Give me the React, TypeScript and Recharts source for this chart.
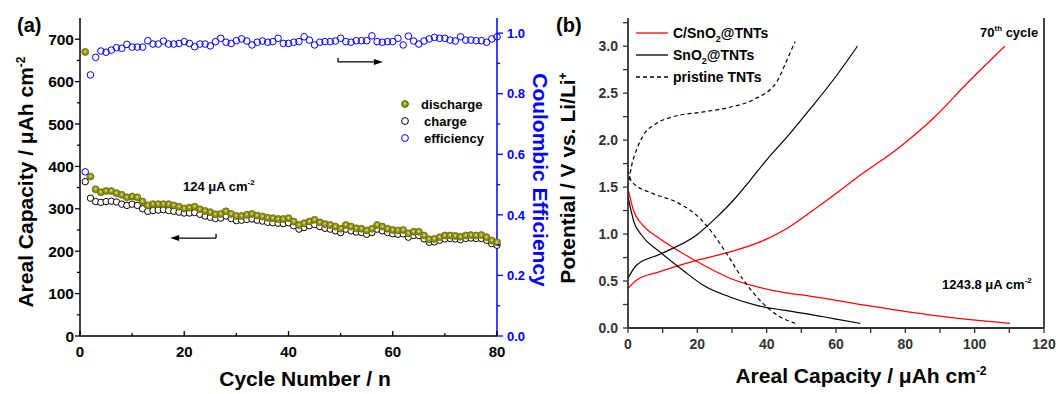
import React from 'react';
import { ComposedChart, LineChart, Line, XAxis, YAxis, ReferenceLine } from 'recharts';

const FONT = '"Liberation Sans", Arial, sans-serif';

// ---------- panel (a): cycling ----------
const cycles = [
  1, 2, 3, 4, 5, 6, 7, 8, 9, 10, 11, 12, 13, 14, 15, 16, 17, 18, 19, 20,
  21, 22, 23, 24, 25, 26, 27, 28, 29, 30, 31, 32, 33, 34, 35, 36, 37, 38, 39, 40,
  41, 42, 43, 44, 45, 46, 47, 48, 49, 50, 51, 52, 53, 54, 55, 56, 57, 58, 59, 60,
  61, 62, 63, 64, 65, 66, 67, 68, 69, 70, 71, 72, 73, 74, 75, 76, 77, 78, 79, 80,
];
const discharge = [
  670, 376, 346, 339, 342, 342, 337, 333, 327, 329, 327, 317, 308, 311, 311, 311, 311, 308, 305, 301,
  303, 305, 299, 295, 292, 287, 288, 294, 288, 283, 283, 286, 288, 284, 282, 279, 278, 276, 276, 278,
  270, 262, 266, 270, 274, 268, 264, 262, 258, 253, 262, 258, 254, 253, 249, 253, 262, 258, 253, 250,
  249, 250, 242, 246, 246, 237, 228, 229, 233, 237, 237, 236, 234, 237, 238, 237, 238, 233, 225, 221,
];
const charge = [
  364, 325, 317, 315, 317, 318, 316, 311, 308, 311, 308, 300, 294, 296, 297, 298, 296, 294, 292, 290,
  290, 291, 287, 283, 280, 277, 278, 283, 277, 272, 273, 275, 276, 273, 271, 268, 267, 266, 265, 267,
  260, 252, 256, 260, 263, 258, 254, 252, 248, 244, 252, 248, 245, 244, 240, 244, 252, 248, 244, 241,
  240, 241, 233, 237, 237, 229, 221, 222, 226, 229, 230, 229, 227, 230, 231, 230, 230, 226, 218, 214,
];
const efficiency = [
  0.542, 0.862, 0.92, 0.941, 0.937, 0.944, 0.952, 0.95, 0.963, 0.954, 0.954, 0.954, 0.975, 0.964, 0.964, 0.974, 0.964, 0.964, 0.966, 0.972,
  0.966, 0.955, 0.964, 0.964, 0.958, 0.972, 0.983, 0.97, 0.966, 0.975, 0.981, 0.974, 0.961, 0.97, 0.974, 0.97, 0.972, 0.983, 0.966, 0.966,
  0.97, 0.972, 0.988, 0.977, 0.961, 0.97, 0.972, 0.972, 0.974, 0.983, 0.972, 0.97, 0.975, 0.975, 0.975, 0.991, 0.972, 0.97, 0.972, 0.972,
  0.983, 0.961, 0.99, 0.974, 0.964, 0.974, 0.981, 0.986, 0.983, 0.983, 0.977, 0.974, 0.988, 0.977, 0.977, 0.975, 0.975, 0.97, 0.981, 0.988,
];

const cycleTicks = [0, 10, 20, 30, 40, 50, 60, 70, 80];
const capTicks = [0, 50, 100, 150, 200, 250, 300, 350, 400, 450, 500, 550, 600, 650, 700];
const effTicks = [0, 0.1, 0.2, 0.3, 0.4, 0.5, 0.6, 0.7, 0.8, 0.9, 1.0];

const cycleRows = cycles.map((cycle, i) => ({
  cycle,
  discharge: discharge[i],
  charge: charge[i],
  efficiency: efficiency[i],
}));

// ---------- panel (b): voltage profiles, 70th cycle ----------
const cSnO2Discharge = [[0, 1.48], [1.7, 1.24], [3.9, 1.11], [9.2, 0.95], [16, 0.79], [21.7, 0.67], [29.4, 0.53], [37.1, 0.44], [44.8, 0.38], [52.5, 0.34], [68.9, 0.24], [88, 0.135], [110.2, 0.05]];
const cSnO2Charge = [[0, 0.42], [2.5, 0.51], [9.2, 0.6], [19.8, 0.72], [29.4, 0.81], [39, 0.93], [45.8, 1.06], [52.5, 1.23], [56.3, 1.33], [66, 1.6], [78.5, 1.93], [88, 2.23], [97.7, 2.6], [108.7, 3.0]];
const sno2Discharge = [[0, 1.4], [1.7, 1.13], [3.9, 0.99], [9.2, 0.81], [16, 0.61], [21.7, 0.455], [29.4, 0.33], [37.1, 0.24], [44.8, 0.19], [52.5, 0.146], [59.2, 0.1], [67, 0.05]];
const sno2Charge = [[0, 0.53], [2.5, 0.67], [9.2, 0.785], [19.8, 0.99], [25.6, 1.18], [30.4, 1.36], [35.2, 1.57], [40, 1.79], [46.7, 2.07], [52.5, 2.33], [59.2, 2.64], [66.2, 3.0]];
const pristineDischarge = [[0, 1.68], [1, 1.56], [7.3, 1.43], [14, 1.34], [20.8, 1.165], [24.6, 1.0], [28.5, 0.79], [33.3, 0.51], [39, 0.26], [43.8, 0.12], [48.2, 0.05]];
const pristineCharge = [[0, 1.5], [1, 1.72], [2.5, 1.9], [4.4, 2.05], [8.3, 2.18], [13.1, 2.25], [21.7, 2.3], [29.4, 2.35], [36.1, 2.43], [42.9, 2.62], [45.8, 2.85], [48.2, 3.05]];

const capBTicks = [0, 10, 20, 30, 40, 50, 60, 70, 80, 90, 100, 110, 120];
const potTicks = [0, 0.25, 0.5, 0.75, 1, 1.25, 1.5, 1.75, 2, 2.25, 2.5, 2.75, 3, 3.25];

const toPts = (a: number[][]) => a.map(([cap, v]) => ({ cap, v }));

// ---------- axis ticks ----------
type TickOpts = {
  side: 'left' | 'right' | 'bottom' | 'top';
  step: number;
  len: number;
  minorLen: number;
  dir: number; // 1 outward, -1 inward
  gap: number;
  color: string;
  fontSize?: number;
  fmt?: (v: number) => string;
};

const makeTick = (o: TickOpts) => (props: any) => {
  const { x, y, payload } = props;
  const v = payload.value;
  const major = Math.abs(v / o.step - Math.round(v / o.step)) < 1e-6;
  const d = (major ? o.len : o.minorLen) * o.dir;
  const label = major && o.fmt ? o.fmt(v) : null;
  const common = { fill: o.color, fontSize: o.fontSize, fontFamily: FONT, fontWeight: 'bold' as const };
  if (o.side === 'left' || o.side === 'right') {
    const s = o.side === 'left' ? -1 : 1;
    return (
      <g>
        <line x1={x} x2={x + s * d} y1={y} y2={y} stroke={o.color} strokeWidth={1.3} />
        {label && (
          <text x={x + s * o.gap} y={y} dy="0.36em" textAnchor={s < 0 ? 'end' : 'start'} {...common}>
            {label}
          </text>
        )}
      </g>
    );
  }
  const s = o.side === 'top' ? -1 : 1;
  return (
    <g>
      <line x1={x} x2={x} y1={y} y2={y + s * d} stroke={o.color} strokeWidth={1.3} />
      {label && (
        <text x={x} y={y + o.gap} textAnchor="middle" {...common}>
          {label}
        </text>
      )}
    </g>
  );
};

const int = (v: number) => String(v);
const one = (v: number) => v.toFixed(1);

const tickALeft = makeTick({ side: 'left', step: 100, len: 5, minorLen: 3, dir: 1, gap: 6, color: '#000', fontSize: 15.5, fmt: int });
const tickABottom = makeTick({ side: 'bottom', step: 20, len: 5, minorLen: 3, dir: -1, gap: 21, color: '#000', fontSize: 15, fmt: int });
const tickATop = makeTick({ side: 'top', step: 20, len: 4, minorLen: 4, dir: -1, gap: 0, color: '#000' });
const tickARight = makeTick({ side: 'right', step: 0.2, len: 6, minorLen: 3, dir: 1, gap: 10, color: '#0000ff', fontSize: 13, fmt: one });

const AX_B = '#333';
const tickBLeft = makeTick({ side: 'left', step: 0.5, len: 5, minorLen: 5, dir: 1, gap: 10, color: AX_B, fontSize: 14, fmt: one });
const tickBBottom = makeTick({ side: 'bottom', step: 20, len: 5, minorLen: 5, dir: 1, gap: 20.5, color: AX_B, fontSize: 14, fmt: int });
const tickBTop = makeTick({ side: 'top', step: 20, len: 4, minorLen: 4, dir: -1, gap: 0, color: AX_B });
const tickBRight = makeTick({ side: 'right', step: 0.5, len: 4, minorLen: 4, dir: 1, gap: 0, color: AX_B });

// ---------- annotation arrows (data units) ----------
const effArrow = { from: 49.5, to: 58.1, at: 0.905, stubTop: 0.918 };
const capArrow = { from: 26.1, to: 17.3, at: 231, stubTop: 241 };

const arrowShape = (props: any) => {
  const { x1, y1, x2, y2 } = props;
  const dx = x2 - x1;
  const dy = y2 - y1;
  const L = Math.hypot(dx, dy) || 1;
  const ux = dx / L;
  const uy = dy / L;
  const hl = 9;
  const hw = 3;
  const bx = x2 - ux * hl;
  const by = y2 - uy * hl;
  return (
    <g>
      <line x1={x1} y1={y1} x2={bx} y2={by} stroke="#000" strokeWidth={1.3} />
      <polygon points={`${x2},${y2} ${bx - uy * hw},${by + ux * hw} ${bx + uy * hw},${by - ux * hw}`} fill="#000" />
    </g>
  );
};

const PanelA = () => (
  <ComposedChart width={560} height={394} data={cycleRows} margin={{ top: 18, right: 0, bottom: 0, left: 0 }}>
    <defs>
      <radialGradient id="oliveBall" cx="50%" cy="45%" r="55%">
        <stop offset="0%" stopColor="#f2f2d8" />
        <stop offset="35%" stopColor="#a3a324" />
        <stop offset="100%" stopColor="#76760a" />
      </radialGradient>
    </defs>
    <XAxis dataKey="cycle" type="number" domain={[0, 80]} ticks={cycleTicks} interval={0} height={58}
      axisLine={{ stroke: '#000', strokeWidth: 1.5 }} tickLine={false} tickSize={0} tickMargin={0} tick={tickABottom} />
    <XAxis xAxisId="top" orientation="top" dataKey="cycle" type="number" domain={[0, 80]} ticks={cycleTicks} interval={0} height={0}
      axisLine={{ stroke: '#000', strokeWidth: 1.5 }} tickLine={false} tickSize={0} tickMargin={0} tick={tickATop} />
    <YAxis yAxisId="cap" domain={[0, 750]} ticks={capTicks} interval={0} width={80}
      axisLine={{ stroke: '#000', strokeWidth: 1.5 }} tickLine={false} tickSize={0} tickMargin={0} tick={tickALeft} />
    <YAxis yAxisId="eff" orientation="right" domain={[0, 1.05]} ticks={effTicks} interval={0} width={63}
      axisLine={{ stroke: '#0000ff', strokeWidth: 1.5 }} tickLine={false} tickSize={0} tickMargin={0} tick={tickARight} />
    <Line yAxisId="cap" dataKey="charge" stroke="none" strokeWidth={0} isAnimationActive={false} activeDot={false}
      dot={{ r: 3.2, fill: '#fff', stroke: '#000', strokeWidth: 1 }} />
    <Line yAxisId="cap" dataKey="discharge" stroke="none" strokeWidth={0} isAnimationActive={false} activeDot={false}
      dot={{ r: 3.5, fill: 'url(#oliveBall)', stroke: '#6e6e08', strokeWidth: 0.8 }} />
    <Line yAxisId="eff" dataKey="efficiency" stroke="none" strokeWidth={0} isAnimationActive={false} activeDot={false}
      dot={{ r: 3.3, fill: 'none', stroke: '#0000ff', strokeWidth: 1 }} />
    <ReferenceLine yAxisId="eff" segment={[{ x: effArrow.from, y: effArrow.at }, { x: effArrow.to, y: effArrow.at }]} shape={arrowShape} />
    <ReferenceLine yAxisId="eff" segment={[{ x: effArrow.from, y: effArrow.at }, { x: effArrow.from, y: effArrow.stubTop }]} stroke="#000" strokeWidth={1.3} />
    <ReferenceLine yAxisId="cap" segment={[{ x: capArrow.from, y: capArrow.at }, { x: capArrow.to, y: capArrow.at }]} shape={arrowShape} />
    <ReferenceLine yAxisId="cap" segment={[{ x: capArrow.from, y: capArrow.at }, { x: capArrow.from, y: capArrow.stubTop }]} stroke="#000" strokeWidth={1.3} />
  </ComposedChart>
);

const bSeries = [
  { key: 'c-dis', data: cSnO2Discharge, color: '#ff0000', dash: undefined },
  { key: 'c-ch', data: cSnO2Charge, color: '#ff0000', dash: undefined },
  { key: 's-dis', data: sno2Discharge, color: '#000', dash: undefined },
  { key: 's-ch', data: sno2Charge, color: '#000', dash: undefined },
  { key: 'p-dis', data: pristineDischarge, color: '#000', dash: '4 3' },
  { key: 'p-ch', data: pristineCharge, color: '#000', dash: '4 3' },
];

const PanelB = () => (
  <LineChart width={508} height={394} margin={{ top: 18, right: 0, bottom: 0, left: 0 }}>
    <XAxis dataKey="cap" type="number" domain={[0, 120]} ticks={capBTicks} interval={0} height={66}
      axisLine={{ stroke: AX_B, strokeWidth: 1.8 }} tickLine={false} tickSize={0} tickMargin={0} tick={tickBBottom} />
    <XAxis xAxisId="top" orientation="top" dataKey="cap" type="number" domain={[0, 120]} ticks={capBTicks} interval={0} height={0}
      axisLine={{ stroke: AX_B, strokeWidth: 1.8 }} tickLine={false} tickSize={0} tickMargin={0} tick={tickBTop} />
    <YAxis domain={[0, 3.3]} ticks={potTicks} interval={0} width={80}
      axisLine={{ stroke: AX_B, strokeWidth: 1.8 }} tickLine={false} tickSize={0} tickMargin={0} tick={tickBLeft} />
    <YAxis yAxisId="r" orientation="right" domain={[0, 3.3]} ticks={potTicks} interval={0} width={12}
      axisLine={{ stroke: AX_B, strokeWidth: 1.8 }} tickLine={false} tickSize={0} tickMargin={0} tick={tickBRight} />
    {bSeries.map((s) => (
      <Line key={s.key} data={toPts(s.data)} dataKey="v" type="monotone" stroke={s.color} strokeWidth={1.2}
        strokeDasharray={s.dash} dot={false} activeDot={false} isAnimationActive={false} />
    ))}
  </LineChart>
);

const legendA = [
  { name: 'discharge', dx: 0, fill: 'url(#oliveBallL)', stroke: '#6e6e08' },
  { name: 'charge', dx: 3, fill: '#fff', stroke: '#000' },
  { name: 'efficiency', dx: 3, fill: 'none', stroke: '#0000ff' },
];

const legendB = [
  { name: 'C/SnO', sub: '2', rest: '@TNTs', color: '#ff0000', dash: undefined },
  { name: 'SnO', sub: '2', rest: '@TNTs', color: '#000', dash: undefined },
  { name: 'pristine TNTs', sub: '', rest: '', color: '#000', dash: '4 3' },
];

const Overlay = () => (
  <svg width={1056} height={394} style={{ position: 'absolute', left: 0, top: 0, pointerEvents: 'none' }}
    fontFamily={FONT} fontWeight="bold">
    <defs>
      <radialGradient id="oliveBallL" cx="50%" cy="45%" r="55%">
        <stop offset="0%" stopColor="#f2f2d8" />
        <stop offset="35%" stopColor="#a3a324" />
        <stop offset="100%" stopColor="#76760a" />
      </radialGradient>
    </defs>
    {/* panel (a) */}
    <text x={17} y={32} fontSize={20}>(a)</text>
    <text x={33} y={182} fontSize={21} textAnchor="middle" transform="rotate(-90 33 182)">
      Areal Capacity / μAh cm<tspan dy={-8} fontSize={12}>-2</tspan>
    </text>
    <text x={305} y={386} fontSize={21} textAnchor="middle">Cycle Number / n</text>
    <text x={533} y={180} fontSize={21} textAnchor="middle" fill="#0000ff" transform="rotate(90 533 180)">
      Coulombic Efficiency
    </text>
    <text x={183} y={191} fontSize={13}>
      124 μA cm<tspan dy={-6} fontSize={8}>-2</tspan>
    </text>
    {legendA.map((l, i) => (
      <g key={l.name}>
        <circle cx={405} cy={104 + i * 17} r={3.4} fill={l.fill} stroke={l.stroke} strokeWidth={1} />
        <text x={421 + l.dx} y={108.5 + i * 17} fontSize={13}>{l.name}</text>
      </g>
    ))}
    {/* panel (b) */}
    <text x={556} y={32} fontSize={20}>(b)</text>
    <text x={575} y={178} fontSize={21} textAnchor="middle" transform="rotate(-90 575 178)">
      Potential / V vs. Li/Li<tspan dy={-8} fontSize={12}>+</tspan>
    </text>
    <text x={861} y={383} fontSize={21} textAnchor="middle">
      Areal Capacity / μAh cm<tspan dy={-8} fontSize={12}>-2</tspan>
    </text>
    {legendB.map((l, i) => (
      <g key={l.name}>
        <line x1={636} x2={668} y1={33 + i * 22} y2={33 + i * 22} stroke={l.color} strokeWidth={1.3} strokeDasharray={l.dash} />
        <text x={673} y={38 + i * 22} fontSize={14}>
          {l.name}
          {l.sub && <tspan dy={4} fontSize={9}>{l.sub}</tspan>}
          {l.rest && <tspan dy={l.sub ? -4 : 0}>{l.rest}</tspan>}
        </text>
      </g>
    ))}
    <text x={980} y={37} fontSize={13}>
      70<tspan dy={-6} fontSize={8}>th</tspan><tspan dy={6}> cycle</tspan>
    </text>
    <text x={942} y={289} fontSize={13}>
      1243.8 μA cm<tspan dy={-6} fontSize={8}>-2</tspan>
    </text>
  </svg>
);

export default function App() {
  return (
    <div style={{ position: 'absolute', left: 0, top: 0, width: 1056, height: 394, background: '#fff', fontFamily: FONT }}>
      <div style={{ position: 'absolute', left: 0, top: 0 }}>
        <PanelA />
      </div>
      <div style={{ position: 'absolute', left: 548, top: 0 }}>
        <PanelB />
      </div>
      <Overlay />
    </div>
  );
}
